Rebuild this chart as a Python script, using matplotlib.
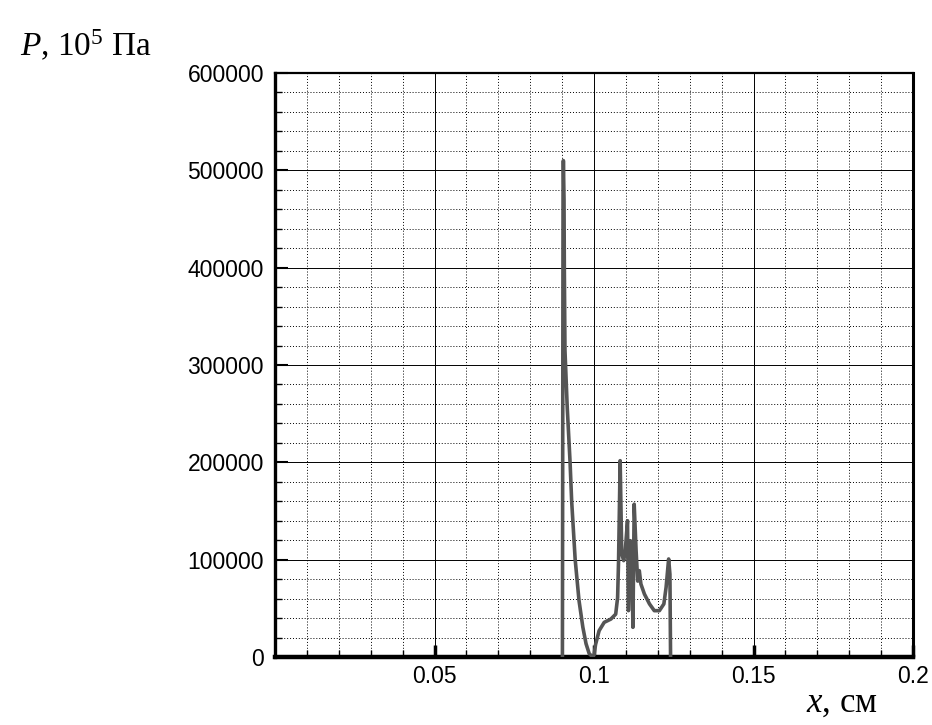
import numpy as np
import matplotlib
matplotlib.use("Agg")
import matplotlib.pyplot as plt
from matplotlib.ticker import MultipleLocator, FixedLocator

# pressure profile
x = [0.0901, 0.0903, 0.0904, 0.0906, 0.0907, 0.0909, 0.0916, 0.0925, 0.0930,
     0.0941, 0.0953, 0.0965, 0.0975, 0.0985, 0.0996, 0.1000,
     0.1005, 0.1016, 0.1032, 0.1053, 0.1068, 0.1074, 0.1077, 0.1082,
     0.1087, 0.1093, 0.1098, 0.1105, 0.1108, 0.1114, 0.1119, 0.1122,
     0.1126, 0.1132, 0.1137, 0.1142, 0.1147, 0.1158, 0.1174, 0.1189,
     0.1205, 0.1219, 0.1226, 0.1234, 0.1238, 0.1240]
p = [0, 480000, 510000, 470000, 400000, 315000, 257000, 200000, 160000,
     100000, 58000, 30700, 13700, 3400, 0, 2000,
     13000, 27000, 35600, 39000, 44000, 61000, 99000, 201700,
     106000, 99000, 109000, 140000, 47600, 119500, 99000, 30500,
     157000, 109000, 78000, 88700, 75000, 64700, 54500, 47600,
     47600, 54500, 71600, 100700, 85000, 0]

xticks = [0.05, 0.1, 0.15, 0.2]
xticklabels = ["0.05", "0.1", "0.15", "0.2"]
yticks = [0, 100000, 200000, 300000, 400000, 500000, 600000]

plt.rcParams['font.family'] = ['Liberation Sans', 'DejaVu Sans']
plt.rcParams['mathtext.fontset'] = 'custom'
plt.rcParams['mathtext.rm'] = 'Liberation Serif'
plt.rcParams['mathtext.it'] = 'Liberation Serif:italic'

fig = plt.figure(figsize=(9.32, 7.25), dpi=100)
ax = fig.add_axes([275/932, 1-657/725, 638/932, 584/725])

ax.plot(x, p, color='#555555', lw=2.6, solid_joinstyle='round', zorder=3)

ax.set_xlim(0, 0.2)
ax.set_ylim(0, 600000)
ax.xaxis.set_major_locator(FixedLocator(xticks))
ax.set_xticklabels(xticklabels)
ax.xaxis.set_minor_locator(MultipleLocator(0.01))
ax.set_yticks(yticks)
ax.set_yticklabels([str(v) for v in yticks])
ax.yaxis.set_minor_locator(MultipleLocator(20000))

ax.grid(which='major', color='black', lw=0.7, ls='-')
ax.grid(which='minor', color='black', lw=0.7, ls=(0, (1, 2)))
ax.set_axisbelow(True)

ax.tick_params(axis='x', which='major', direction='in', length=9, width=2.5,
               labelsize=16.5, pad=6)
ax.tick_params(axis='x', which='minor', direction='in', length=5, width=1)
ax.tick_params(axis='y', which='major', direction='in', length=9, width=1.5,
               labelsize=16.5, pad=8)
ax.tick_params(axis='y', which='minor', direction='in', length=5, width=1)

ax.spines['bottom'].set_linewidth(3.2)
ax.spines['left'].set_linewidth(2.4)
ax.spines['right'].set_linewidth(2.2)
ax.spines['top'].set_linewidth(1.6)

fig.text(20/932, 1-56/725, r"$\it{P}$, 10$^5$ Па", fontsize=24,
         family='Liberation Serif', ha='left', va='baseline')
fig.text(806/932, 1-712/725, r"$\it{x}$, см", fontsize=25,
         family='Liberation Serif', ha='left', va='baseline')

fig.savefig("out.png", dpi=100)
